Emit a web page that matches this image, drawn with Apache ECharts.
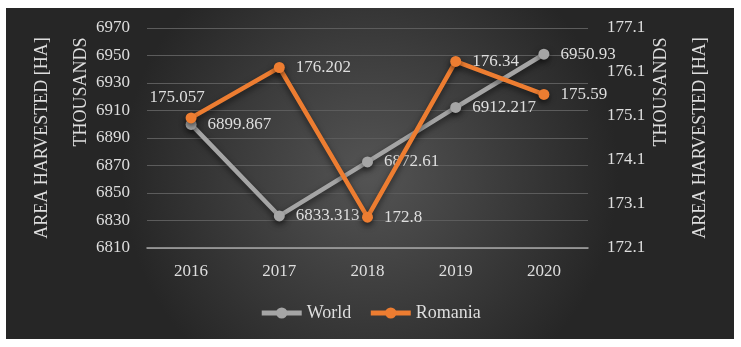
<!DOCTYPE html>
<html>
<head>
<meta charset="utf-8">
<script src="https://cdn.jsdelivr.net/npm/echarts@6/dist/echarts.min.js"></script>
<style>
html,body{margin:0;padding:0;background:#ffffff;}
#chart{position:absolute;left:6px;top:8px;width:728px;height:331px;}
</style>
</head>
<body>
<div id="chart"></div>
<script>
const years = ['2016', '2017', '2018', '2019', '2020'];
const world = [6899.867, 6833.313, 6872.61, 6912.217, 6950.93];
const romania = [175.057, 176.202, 172.8, 176.34, 175.59];
const worldName = 'World';
const romaniaName = 'Romania';
const axisTitle = 'AREA HARVESTED [HA]';
const unitsTitle = 'THOUSANDS';

const FONT = 'Liberation Serif';
const TXT = '#dedede';

const chart = echarts.init(document.getElementById('chart'));

const shadow = {shadowColor: 'rgba(0,0,0,0.55)', shadowBlur: 6, shadowOffsetY: 3};

function titleText(x, y, text) {
  return {
    type: 'text', x: x, y: y, rotation: Math.PI / 2,
    style: {text: text, fill: TXT, fontSize: 18, fontFamily: FONT, align: 'center', verticalAlign: 'middle'}
  };
}

const romaniaData = romania.map(function (v, i) {
  if (i === 0) {
    return {value: v, label: {position: 'top', offset: [-14, 5]}};
  }
  return v;
});

chart.setOption({
  backgroundColor: {
    type: 'radial', x: 0.5, y: 0.5, r: 0.75,
    colorStops: [{offset: 0, color: '#545454'}, {offset: 1, color: '#262626'}]
  },
  textStyle: {fontFamily: FONT},
  animation: false,
  grid: {left: 141, right: 146, top: 20, bottom: 91},
  legend: {
    bottom: 12, left: 'center', itemWidth: 40, itemHeight: 14, itemGap: 17,
    lineStyle: {width: 5},
    textStyle: {color: TXT, fontSize: 18, fontFamily: FONT},
    data: [worldName, romaniaName]
  },
  xAxis: {
    type: 'category', data: years, boundaryGap: true,
    axisLine: {lineStyle: {color: '#a8a8a8', width: 1.5}},
    axisTick: {show: false},
    axisLabel: {color: TXT, fontSize: 17, margin: 15, fontFamily: FONT}
  },
  yAxis: [{
    type: 'value', min: 6810, max: 6970, interval: 20,
    axisLine: {show: false}, axisTick: {show: false},
    splitLine: {lineStyle: {color: '#5c5c5c', width: 1}},
    axisLabel: {color: TXT, fontSize: 17, margin: 17, fontFamily: FONT,
      formatter: function (v) { return String(v); }}
  }, {
    type: 'value', min: 172.1, max: 177.1, interval: 1,
    axisLine: {show: false}, axisTick: {show: false},
    splitLine: {show: false},
    axisLabel: {color: TXT, fontSize: 17, margin: 19, fontFamily: FONT,
      formatter: function (v) { return v.toFixed(1); }}
  }],
  graphic: [
    titleText(36, 130, axisTitle),
    titleText(75, 84, unitsTitle),
    titleText(655, 84, unitsTitle),
    titleText(694, 130, axisTitle)
  ],
  series: [{
    name: worldName, type: 'line', data: world, yAxisIndex: 0,
    symbol: 'circle', symbolSize: 11,
    lineStyle: Object.assign({color: '#a5a5a5', width: 4.5}, shadow),
    itemStyle: Object.assign({color: '#a5a5a5'}, shadow),
    label: {show: true, position: 'right', distance: 11, color: TXT, fontSize: 17, fontFamily: FONT,
      formatter: function (p) { return String(p.value); }},
    z: 2
  }, {
    name: romaniaName, type: 'line', data: romaniaData, yAxisIndex: 1,
    symbol: 'circle', symbolSize: 11,
    lineStyle: Object.assign({color: '#ed7d31', width: 4.5}, shadow),
    itemStyle: Object.assign({color: '#ed7d31'}, shadow),
    label: {show: true, position: 'right', distance: 11, color: TXT, fontSize: 17, fontFamily: FONT,
      formatter: function (p) { return String(p.value); }},
    z: 3
  }]
});
</script>
</body>
</html>
